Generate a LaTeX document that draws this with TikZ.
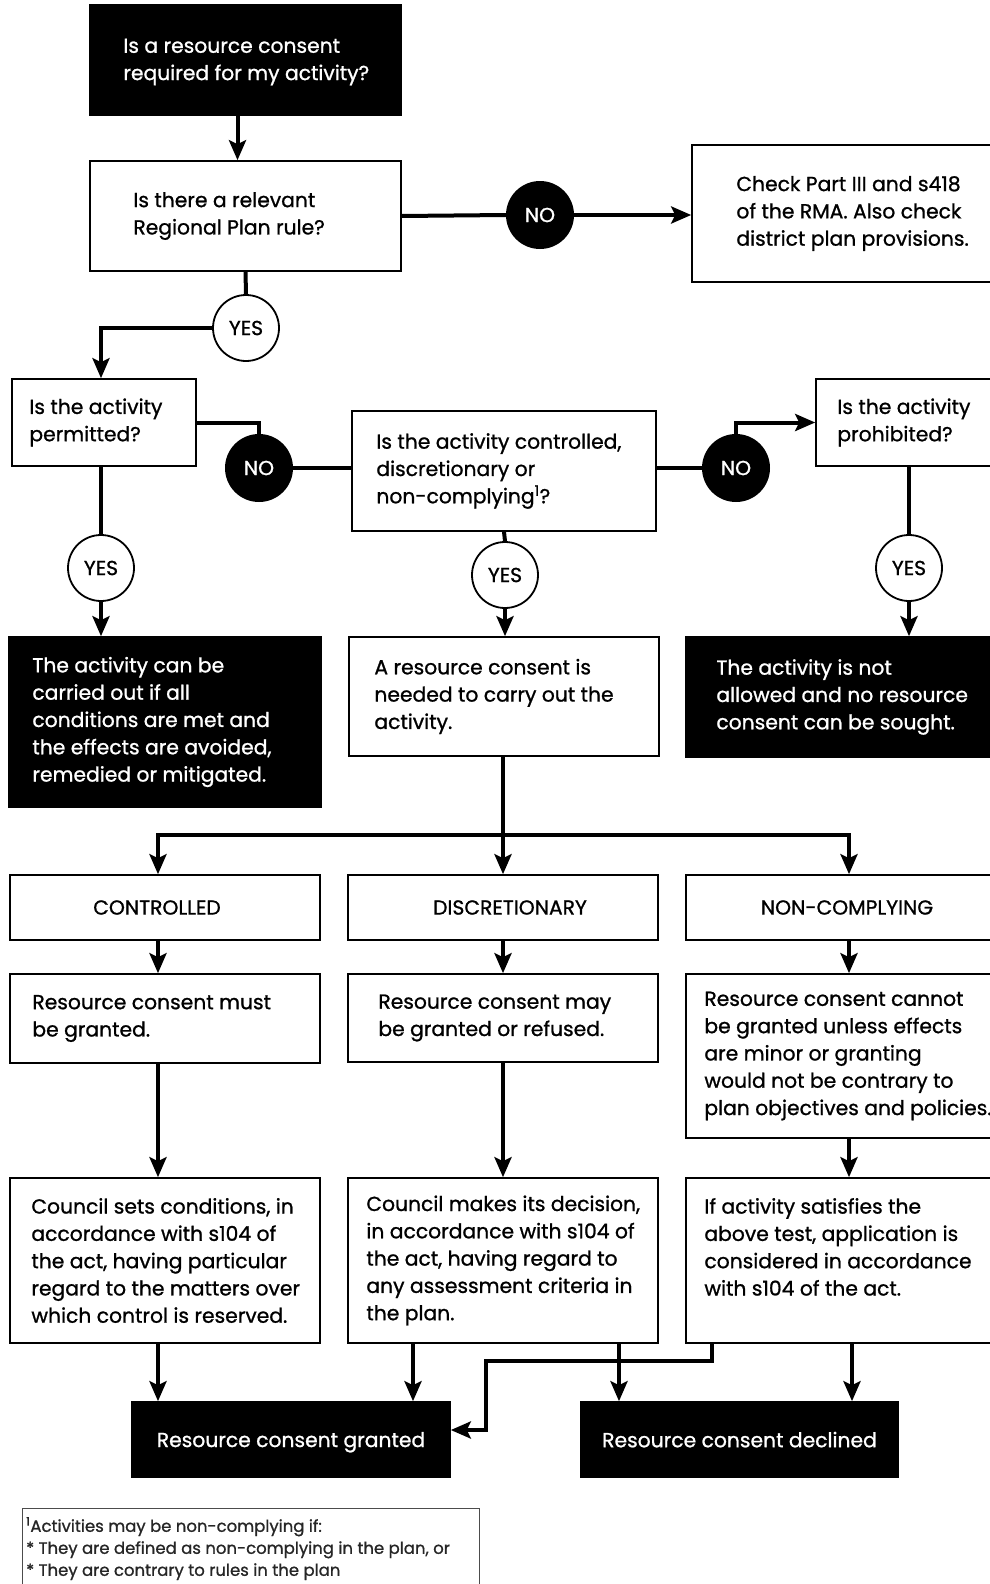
\documentclass[tikz,border=0pt]{standalone}
\usepackage{fontspec}
\setmainfont{Poppins}[FakeBold=1.0]
\usetikzlibrary{arrows.meta,positioning,calc}

\newcommand\bodyfont{\fontsize{20.3}{27.3}\selectfont}
\newcommand\notefont{\fontsize{16.5}{22}\selectfont}

\begin{document}
\begin{tikzpicture}[x=1pt,y=-1pt,
    box/.style={draw,line width=1.6pt,rectangle,inner sep=0pt},
    dark/.style={box,fill=black},
    txt/.style={align=left,inner sep=0pt,font=\bodyfont},
    wtxt/.style={txt,text=white},
    yes/.style={circle,draw,line width=1.8pt,fill=white,minimum size=66pt,inner sep=0pt,font=\bodyfont},
    no/.style={circle,fill=black,text=white,minimum size=68pt,inner sep=0pt,font=\bodyfont},
    line/.style={line width=4pt},
    arr/.style={line,-{Stealth[length=20pt,width=17pt,inset=4pt]}}]
        \useasboundingbox (0,0) rectangle (990,1584);
        % columns
        \coordinate (colA) at (158,0);
        \coordinate (colB) at (503,0);
        \coordinate (colC) at (849,0);
        % questions
        \node[dark,minimum width=311pt,minimum height=110pt] (q0) at (245.5,60) {};
        \node[wtxt,right=34pt of q0.west,yshift=-2pt] (q0t) {Is a resource consent\\required for my activity?};
        \node[box,minimum width=311pt,minimum height=110pt] (q1) at (245.5,216) {};
        \node[txt,right=44pt of q1.west] (q1t) {Is there a relevant\\Regional Plan rule?};
        \node[box,minimum width=408pt,minimum height=137pt] (chk) at (896,213.5) {};
        \node[txt,right=45pt of chk.west] (chkt) {Check Part III and s418\\of the RMA. Also check\\district plan provisions.};
        \node[box,minimum width=184pt,minimum height=87pt] (perm) at (104,422.5) {};
        \node[txt,right=18pt of perm.west] (permt) {Is the activity\\permitted?};
        \node[box,minimum width=304pt,minimum height=120pt] (mq) at (504,471) {};
        \node[txt,right=25pt of mq.west] (mqt) {Is the activity controlled,\\discretionary or\\non-complying\textsuperscript{1}?};
        \node[box,minimum width=284pt,minimum height=87pt] (proh) at (958,422.5) {};
        \node[txt,right=22pt of proh.west] (proht) {Is the activity\\prohibited?};
        % circles
        \node[yes] (yes1) at (246,328) {YES};
        \node[no] (no1) at (540,215) {NO};
        \node[no] (no2) at (259,468) {NO};
        \node[no] (no3) at (736,468) {NO};
        \node[yes] (yes2) at (101,568) {YES};
        \node[yes] (yes3) at (505,575) {YES};
        \node[yes] (yes4) at (909,568) {YES};
        % outcomes
        \node[dark,minimum width=312pt,minimum height=170pt] (out1) at (165,722) {};
        \node[wtxt,right=24pt of out1.west] (out1t) {The activity can be\\carried out if all\\conditions are met and\\the effects are avoided,\\remedied or mitigated.};
        \node[box,minimum width=310pt,minimum height=119pt] (out2) at (504,696.5) {};
        \node[txt,right=26pt of out2.west] (out2t) {A resource consent is\\needed to carry out the\\activity.};
        \node[dark,minimum width=414pt,minimum height=120pt] (out3) at (893,697) {};
        \node[wtxt,right=31pt of out3.west] (out3t) {The activity is not\\allowed and no resource\\consent can be sought.};
        % categories
        \node[box,minimum width=310pt,minimum height=65pt] (c1) at (165,907.5) {};
        \node[txt] (c1t) at (157,907.5) {CONTROLLED};
        \node[box,minimum width=310pt,minimum height=65pt] (c2) at (503,907.5) {};
        \node[txt] (c2t) at (510,907.5) {DISCRETIONARY};
        \node[box,minimum width=414pt,minimum height=65pt] (c3) at (893,907.5) {};
        \node[txt] (c3t) at (847,907.5) {NON-COMPLYING};
        \node[box,minimum width=310pt,minimum height=89pt] (r1) at (165,1018.5) {};
        \node[txt,right=23pt of r1.west] (r1t) {Resource consent must\\be granted.};
        \node[box,minimum width=310pt,minimum height=88pt] (r2) at (503,1018) {};
        \node[txt,right=31pt of r2.west] (r2t) {Resource consent may\\be granted or refused.};
        \node[box,minimum width=414pt,minimum height=164pt] (r3) at (893,1056) {};
        \node[txt,right=19pt of r3.west] (r3t) {Resource consent cannot\\be granted unless effects\\are minor or granting\\would not be contrary to\\plan objectives and policies.};
        \node[box,minimum width=310pt,minimum height=165pt] (s1) at (165,1260.5) {};
        \node[txt,right=22pt of s1.west] (s1t) {Council sets conditions, in\\accordance with s104 of\\the act, having particular\\regard to the matters over\\which control is reserved.};
        \node[box,minimum width=310pt,minimum height=165pt] (s2) at (503,1260.5) {};
        \node[txt,right=19pt of s2.west] (s2t) {Council makes its decision,\\in accordance with s104 of\\the act, having regard to\\any assessment criteria in\\the plan.};
        \node[box,minimum width=414pt,minimum height=165pt] (s3) at (893,1260.5) {};
        \node[txt,anchor=north west] (s3t) at ([xshift=19pt]s3.west |- s1t.north) {If activity satisfies the\\above test, application is\\considered in accordance\\with s104 of the act.};
        % results
        \node[dark,minimum width=318pt,minimum height=75pt] (ok) at (291,1439.5) {};
        \node[wtxt,text depth=0pt] (okt) at (ok.center) {Resource consent granted};
        \node[dark,minimum width=317pt,minimum height=75pt] (dec) at (739.5,1439.5) {};
        \node[wtxt,text depth=0pt] (dect) at (dec.center) {Resource consent declined};
        % footnote
        \node[draw=black!70,line width=1pt,minimum width=457pt,minimum height=112pt] (fn) at (250.5,1564) {};
        \node[align=left,inner sep=0pt,font=\notefont,text=black!85,anchor=north west] (fnt) at (26,1517)
            {\textsuperscript{1}Activities may be non-complying if:\\* They are defined as non-complying in the plan, or\\* They are contrary to rules in the plan};

        % connectors
        \draw[arr] ([xshift=-8pt]q0.south) -- ([xshift=-8pt]q1.north);
        \draw[line] (q1.south) -- (yes1.north);
        \draw[line] (q1.east) -- (no1.west);
        \draw[arr] (no1.east) -- (no1.east -| chk.west);
        \draw[arr] (yes1.west) -| ([xshift=-3pt]perm.north);
        \draw[line] (perm.east) -| (no2.north);
        \draw[line] (no2.east) -- (no2.east -| mq.west);
        \draw[line] (no3.west -| mq.east) -- (no3.west);
        \draw[arr] (no3.north) |- (proh.west);
        \draw[line] ([xshift=-3pt]perm.south) -- (yes2.north);
        \draw[arr] (yes2.south) -- (yes2.south |- out1.north);
        \draw[line] (mq.south) -- (yes3.north);
        \draw[arr] (yes3.south) -- (yes3.south |- out2.north);
        \draw[line] (proh.south -| yes4.north) -- (yes4.north);
        \draw[arr] (yes4.south) -- (yes4.south |- out3.north);
        % split into the three kinds
        \coordinate (split) at (503,835);
        \draw[line] (out2.south -| split) -- (split);
        \draw[arr] (split) -| (c1.north -| colA);
        \draw[arr] (split) -- (c2.north -| colB);
        \draw[arr] (split) -| (c3.north -| colC);
        \draw[arr] (c1.south -| colA) -- (r1.north -| colA);
        \draw[arr] (c2.south -| colB) -- (r2.north -| colB);
        \draw[arr] (c3.south -| colC) -- (r3.north -| colC);
        \draw[arr] (r1.south -| colA) -- (s1.north -| colA);
        \draw[arr] (r2.south -| colB) -- (s2.north -| colB);
        \draw[arr] (r3.south -| colC) -- (s3.north -| colC);
        % to the decisions
        \draw[arr] (s1.south -| colA) -- (ok.north -| colA);
        \draw[arr] (s2.south -| 413,0) -- (ok.north -| 413,0);
        \draw[arr] (s2.south -| 619,0) -- (dec.north -| 619,0);
        \draw[arr] (s3.south -| 852,0) -- (dec.north -| 852,0);
        \draw[arr] (s3.south -| 712,0) |- (486,1361) |- (ok.east |- 0,1430);
\end{tikzpicture}
\end{document}
